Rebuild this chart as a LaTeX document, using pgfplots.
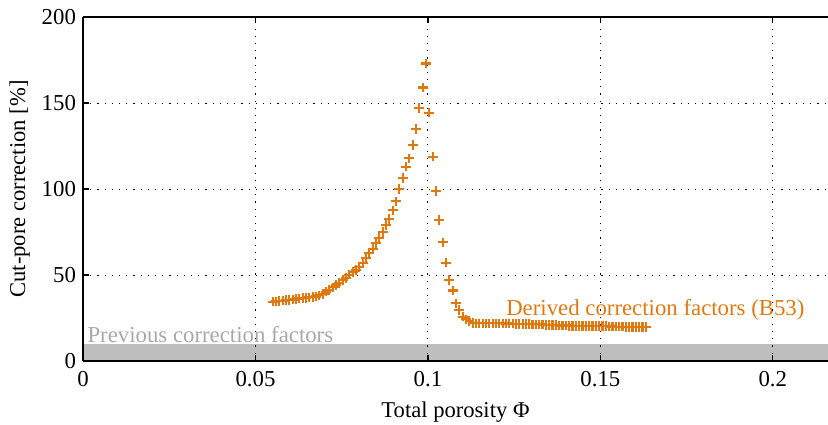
\documentclass[border=0pt]{standalone}
\usepackage{fontspec}
\setmainfont{Liberation Serif}[Ligatures=TeX]
\newfontfamily\tnr{Liberation Serif}
\usepackage{pgfplots}
\pgfplotsset{compat=1.18}
\definecolor{myorange}{RGB}{224,120,16}
\definecolor{bandgray}{RGB}{190,190,190}
\definecolor{txtgray}{RGB}{168,168,168}
\begin{document}
\tnr
\begin{tikzpicture}[font=\tnr]
\begin{axis}[
  name=ax,
  scale only axis,
  width=372.5pt, height=172pt,
  xmin=0, xmax=0.216, ymin=0, ymax=200,
  axis x line=box, axis y line=left,
  axis line style={black, line width=0.8pt, -},
  xtick={0,0.05,0.1,0.15,0.2},
  xticklabels={0,0.05,0.1,0.15,0.2},
  ytick={0,50,100,150,200},
  scaled x ticks=false,
  tick align=inside,
  tick style={black, line width=0.6pt},
  major tick length=3pt,
  grid=major,
  grid style={black, line width=0.5pt, dash pattern=on 0.6pt off 3pt},
  axis on top=true,
  /pgf/number format/assume math mode=true,
  tick label style={font=\tnr\fontsize{11.4}{13}\selectfont},
  xticklabel style={yshift=-1.5pt},
  label style={font=\tnr\fontsize{11.3}{13}\selectfont},
  xlabel={Total porosity Φ},
  ylabel={Cut-pore correction [\%]},
  xlabel style={yshift=-1pt},
  ylabel style={yshift=-1pt},
  clip=true,
]
\addplot[fill=bandgray, draw=none] coordinates {(0,10) (0.216,10)} \closedcycle;
\addplot[only marks, mark=+, mark size=2.4pt, myorange, mark options={line width=1.1pt}] coordinates {
(0.0550,34.5) (0.0560,34.7) (0.0569,34.9) (0.0579,35.1) (0.0589,35.3)
(0.0598,35.5) (0.0608,35.8) (0.0618,36.0) (0.0627,36.3) (0.0637,36.6)
(0.0647,36.8) (0.0656,37.0) (0.0666,37.2) (0.0676,37.5) (0.0685,38.2)
(0.0695,39.0) (0.0705,40.3) (0.0714,41.3) (0.0724,42.8) (0.0734,44.2)
(0.0743,45.5) (0.0753,47.0) (0.0763,48.4) (0.0772,50.2) (0.0782,51.7)
(0.0792,52.9) (0.0801,54.8) (0.0811,57.2) (0.0820,60.0) (0.0830,62.6)
(0.0840,65.0) (0.0849,68.4) (0.0859,71.7) (0.0869,75.0) (0.0878,79.0)
(0.0888,82.7) (0.0898,87.6) (0.0907,92.8) (0.0917,100.0) (0.0927,106.4)
(0.0936,113.0) (0.0946,117.8) (0.0956,125.6) (0.0965,135.0) (0.0975,147.0)
(0.0985,159.0) (0.0994,173.0) (0.1004,144.4) (0.1014,118.8) (0.1023,99.0)
(0.1033,82.0) (0.1043,69.0) (0.1052,57.2) (0.1062,47.0) (0.1072,41.0)
(0.1081,33.5) (0.1091,29.7) (0.1101,25.8) (0.1110,24.2) (0.1120,23.3)
(0.1130,22.2) (0.1139,21.9) (0.1149,21.9) (0.1159,21.9) (0.1168,21.9)
(0.1178,21.9) (0.1188,21.9) (0.1197,21.9) (0.1207,21.9) (0.1217,21.9)
(0.1226,21.8) (0.1236,21.8) (0.1246,21.7) (0.1255,21.6) (0.1265,21.6)
(0.1275,21.5) (0.1284,21.4) (0.1294,21.4) (0.1303,21.3) (0.1313,21.3)
(0.1323,21.3) (0.1332,21.2) (0.1342,21.1) (0.1352,21.0) (0.1361,20.9)
(0.1371,20.8) (0.1381,20.7) (0.1390,20.6) (0.1400,20.6) (0.1410,20.5)
(0.1419,20.5) (0.1429,20.5) (0.1439,20.5) (0.1448,20.5) (0.1458,20.5)
(0.1468,20.4) (0.1477,20.4) (0.1487,20.3) (0.1497,20.3) (0.1506,20.2)
(0.1516,20.2) (0.1526,20.1) (0.1535,20.1) (0.1545,20.0) (0.1555,20.0)
(0.1564,20.0) (0.1574,19.9) (0.1584,19.9) (0.1593,19.9) (0.1603,19.8)
(0.1613,19.8) (0.1622,19.8) (0.1632,19.7)
};
\node[anchor=base west, text=txtgray, font=\tnr\fontsize{11.4}{13}\selectfont, inner sep=0pt] at (axis cs:0.0012,10.6) {Previous correction factors};
\node[anchor=base west, text=myorange, font=\tnr\fontsize{11.4}{13}\selectfont, inner sep=0pt] at (axis cs:0.1226,26.7) {Derived correction factors (B53)};
\end{axis}
\pgfresetboundingbox
\path ([xshift=-41.5pt,yshift=-31.5pt]ax.south west) rectangle ([yshift=8.5pt]ax.north east);
\end{tikzpicture}
\end{document}
